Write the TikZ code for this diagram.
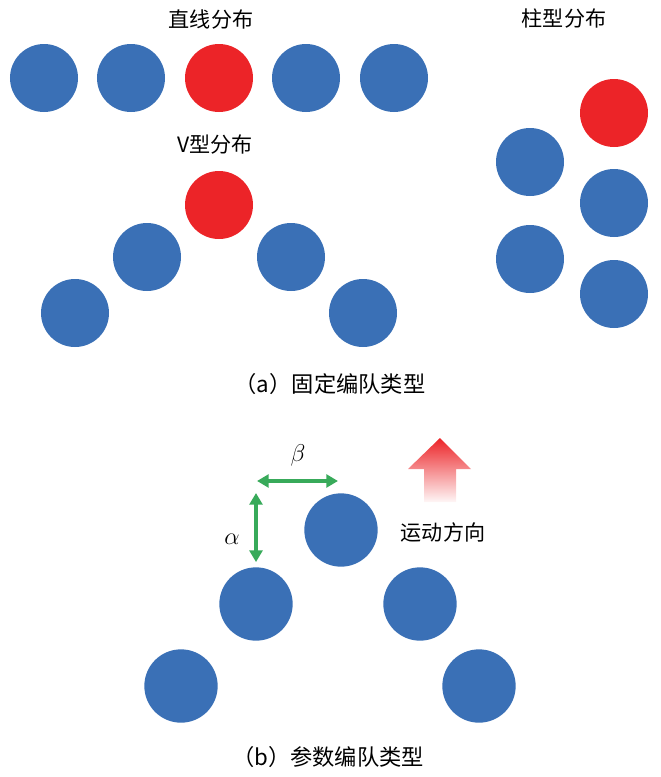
\documentclass[tikz,border=0pt]{standalone}
\usepackage{fontspec}
\newfontfamily\cjk{Noto Sans CJK SC}
\usetikzlibrary{arrows.meta}
\usetikzlibrary{positioning}
\definecolor{uavblue}{RGB}{58,112,182}
\definecolor{uavred}{RGB}{236,36,40}
\definecolor{gapgreen}{RGB}{56,170,90}
\tikzset{
  uav/.style={circle,fill=uavblue,minimum size=2.04cm,inner sep=0pt},
  lead/.style={uav,fill=uavred},
  bigrobot/.style={uav,minimum size=2.2cm},
  capt/.style={font=\cjk\fontsize{18}{20}\selectfont,inner sep=0pt},
  subcapt/.style={capt,font=\cjk\fontsize{19}{21}\selectfont},
  greek/.style={font=\fontsize{22}{24}\selectfont,inner sep=0pt},
  gap/.style={draw=gapgreen,line width=3pt,{Triangle[length=10pt,width=11pt]}-{Triangle[length=10pt,width=11pt]}}
}
\begin{document}
\begin{tikzpicture}[x=0.03cm,y=-0.03cm]
\useasboundingbox (0,0) rectangle (660,777);

\node[capt] (tLine) at (211,19) {直线分布};
\node[uav] (l1) at (44,78) {};
\node[uav] (l2) at (131,78) {};
\node[lead] (l3) at (219,78) {};
\node[uav] (l4) at (306,78) {};
\node[uav] (l5) at (394,78) {};

\node[capt] (tCol) at (564,19) {柱型分布};
\node[lead] (c1) at (614,113) {};
\node[uav] (c2) at (530,162) {};
\node[uav] (c3) at (614,203) {};
\node[uav] (c4) at (530,259) {};
\node[uav] (c5) at (614,294) {};

\node[capt] (tV) at (215,145) {V型分布};
\node[lead] (v1) at (219,205) {};
\node[uav] (v2) at (147,257) {};
\node[uav] (v3) at (291,257) {};
\node[uav] (v4) at (75,313) {};
\node[uav] (v5) at (363,313) {};

\node[subcapt] (capA) at (330,384) {（a）固定编队类型};

\node[bigrobot] (p1) at (341,530) {};
\node[bigrobot] (p2) at (256,604) {};
\node[bigrobot] (p3) at (420,604) {};
\node[bigrobot] (p4) at (181,686) {};
\node[bigrobot] (p5) at (479,686) {};

\coordinate (gapL) at (257,481);
\coordinate (gapR) at (338,481);
\coordinate (gapT) at (256,493);
\draw[gap] (gapL) -- (gapR);
\draw[gap] (gapT) -- ([yshift=0.15cm]p2.north);
\node[greek] (beta) at (298,455) {$\beta$};
\node[greek] (alpha) at (232,539) {$\alpha$};

\shade[top color=uavred,middle color=uavred!60,bottom color=uavred!4]
  (440,438) -- (471,469) -- (456,469) -- (456,502) -- (424,502) -- (424,469) -- (408,469) -- cycle;
\node[capt] (dir) at (443,532) {运动方向};

\node[subcapt] (capB) at (328,757) {（b）参数编队类型};

\end{tikzpicture}
\end{document}
